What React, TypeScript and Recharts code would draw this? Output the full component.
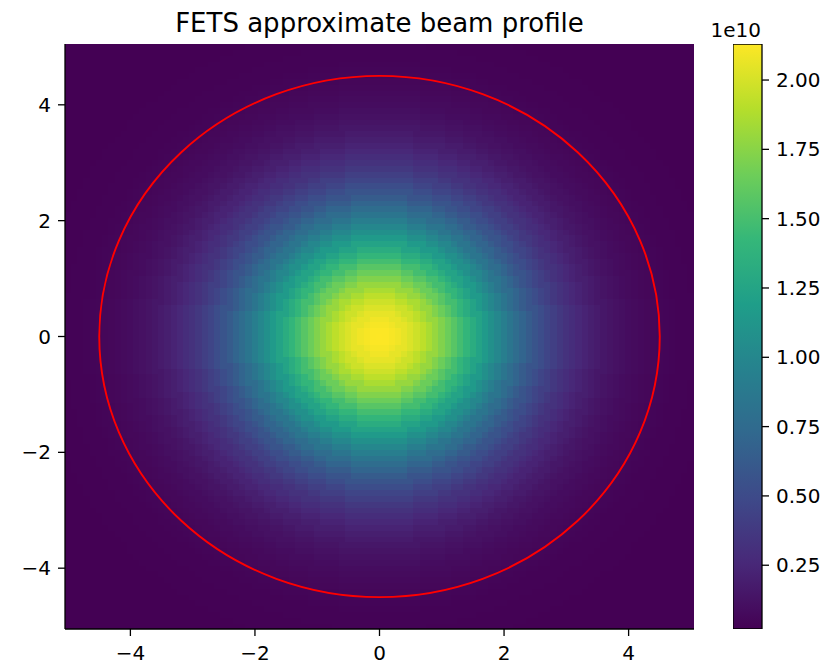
import {
  ScatterChart,
  ComposedChart,
  Scatter,
  Bar,
  XAxis,
  YAxis,
  ReferenceArea,
} from "recharts";

// axes
const xTicks = [-4, -2, 0, 2, 4];
const yTicks = [-4, -2, 0, 2, 4];
const cbarTicks = [0.25, 0.5, 0.75, 1.0, 1.25, 1.5, 1.75, 2.0];

// grid: cell centres every 0.1 from -5 to 5
const GRID_STEP = 0.1;
const gridCoords = Array.from({ length: 101 }, (_, i) => Math.round(-50 + i) / 10);

// beam intensity (x 1e10) read along a radius from the centre, every 0.1 units
const PROFILE_STEP = 0.1;
const radialProfile = [
  2.13, 2.126, 2.112, 2.09, 2.059, 2.02, 1.974, 1.92, 1.86, 1.795,
  1.724, 1.649, 1.571, 1.49, 1.408, 1.325, 1.241, 1.158, 1.076, 0.996,
  0.918, 0.842, 0.77, 0.701, 0.636, 0.575, 0.518, 0.464, 0.415, 0.37,
  0.328, 0.291, 0.257, 0.226, 0.198, 0.174, 0.152, 0.133, 0.116, 0.102,
  0.089, 0.078, 0.069, 0.061, 0.054, 0.048, 0.043, 0.039, 0.035, 0.032,
  0.03, 0.028, 0.027, 0.025, 0.024, 0.023, 0.023, 0.022, 0.022, 0.021,
  0.021, 0.021, 0.021, 0.02, 0.02, 0.02, 0.02, 0.02, 0.02, 0.02,
  0.02, 0.02,
];

// aperture circle radius
const apertureRadius = 4.5;

// colour bar
const VMIN = 0.02;
const VMAX = 2.13;
const cbarData = [{ name: "scale", range: [VMIN, VMAX] }];

const DOMAIN: [number, number] = [-5.05, 5.05];

const viridis = [
  "#440154", "#482878", "#3e4989", "#31688e", "#26828e",
  "#1f9e89", "#35b779", "#6ece58", "#b5de2b", "#fde725",
];

const PLOT_W = 629;
const PLOT_H = 585;
const FONT = "'DejaVu Sans', sans-serif";

function hex(c: string) {
  return [1, 3, 5].map((i) => parseInt(c.slice(i, i + 2), 16));
}

function colorFor(v: number) {
  let t = (v - VMIN) / (VMAX - VMIN);
  t = Math.max(0, Math.min(1, t));
  const pos = t * (viridis.length - 1);
  const i = Math.min(viridis.length - 2, Math.floor(pos));
  const f = pos - i;
  const a = hex(viridis[i]);
  const b = hex(viridis[i + 1]);
  const c = a.map((ch, k) => Math.round(ch + (b[k] - ch) * f));
  return `rgb(${c[0]},${c[1]},${c[2]})`;
}

const cells = gridCoords.flatMap((y) =>
  gridCoords.map((x) => {
    const idx = Math.min(
      radialProfile.length - 1,
      Math.round(Math.hypot(x, y) / PROFILE_STEP)
    );
    return { x, y, v: radialProfile[idx] };
  })
);

const cellW = (PLOT_W * GRID_STEP) / (DOMAIN[1] - DOMAIN[0]);
const cellH = (PLOT_H * GRID_STEP) / (DOMAIN[1] - DOMAIN[0]);

const fmtMinus = (v: number) => (v < 0 ? `\u2212${Math.abs(v)}` : `${v}`);

const tickStyle = { fill: "#000", fontSize: 20, fontFamily: FONT };
const lineStyle = { stroke: "#000", strokeWidth: 1.3 };

function Cell(props: any) {
  const { cx, cy, payload } = props;
  if (cx == null || cy == null) return null;
  return (
    <rect
      x={cx - cellW / 2 - 0.3}
      y={cy - cellH / 2 - 0.3}
      width={cellW + 0.6}
      height={cellH + 0.6}
      fill={colorFor(payload.v)}
      shapeRendering="crispEdges"
    />
  );
}

function Aperture(props: any) {
  const { x, y, width, height } = props;
  return (
    <ellipse
      cx={x + width / 2}
      cy={y + height / 2}
      rx={width / 2}
      ry={height / 2}
      fill="none"
      stroke="#ff0000"
      strokeWidth={1.9}
    />
  );
}

export default function App() {
  return (
    <div
      style={{
        position: "relative",
        width: 828,
        height: 664,
        margin: "-8px 0 0 -8px",
        background: "#fff",
        fontFamily: FONT,
      }}
    >
      <div
        style={{
          position: "absolute",
          left: 65,
          top: 10,
          width: PLOT_W,
          textAlign: "center",
          fontSize: 26,
          lineHeight: "26px",
          color: "#000",
        }}
      >
        FETS approximate beam profile
      </div>

      <div style={{ position: "absolute", left: 0, top: 0 }}>
        <ScatterChart
          width={65 + PLOT_W + 2}
          height={664}
          margin={{ top: 44, right: 2, bottom: 0, left: 0 }}
        >
          <XAxis
            type="number"
            dataKey="x"
            domain={DOMAIN}
            ticks={xTicks}
            allowDataOverflow
            tickFormatter={fmtMinus}
            tick={tickStyle}
            tickSize={7}
            tickMargin={10}
            tickLine={lineStyle}
            axisLine={lineStyle}
            height={35}
            zIndex={500}
          />
          <YAxis
            type="number"
            dataKey="y"
            domain={DOMAIN}
            ticks={yTicks}
            allowDataOverflow
            tickFormatter={fmtMinus}
            tick={tickStyle}
            tickSize={7}
            tickMargin={7}
            tickLine={lineStyle}
            axisLine={lineStyle}
            width={65}
            zIndex={500}
          />
          <XAxis
            xAxisId="top"
            orientation="top"
            type="number"
            domain={DOMAIN}
            tick={false}
            tickLine={false}
            axisLine={lineStyle}
            height={0}
            zIndex={500}
          />
          <YAxis
            yAxisId="right"
            orientation="right"
            type="number"
            domain={DOMAIN}
            tick={false}
            tickLine={false}
            axisLine={lineStyle}
            width={0}
            zIndex={500}
          />
          <Scatter
            data={cells}
            shape={Cell}
            isAnimationActive={false}
            zIndex={50}
          />
          <ReferenceArea
            x1={-apertureRadius}
            x2={apertureRadius}
            y1={-apertureRadius}
            y2={apertureRadius}
            shape={Aperture}
            zIndex={1000}
          />
        </ScatterChart>
      </div>

      <div
        style={{
          position: "absolute",
          left: 701,
          top: 20,
          width: 60,
          textAlign: "right",
          fontSize: 20,
          lineHeight: "20px",
          color: "#000",
        }}
      >
        1e10
      </div>

      <div style={{ position: "absolute", left: 733, top: 0 }}>
        <ComposedChart
          width={95}
          height={664}
          data={cbarData}
          barCategoryGap={0}
          barGap={0}
          margin={{ top: 44, right: 0, bottom: 35, left: 0 }}
        >
          <defs>
            <linearGradient id="viridisBar" x1="0" y1="1" x2="0" y2="0">
              {viridis.map((c, i) => (
                <stop key={c} offset={i / (viridis.length - 1)} stopColor={c} />
              ))}
            </linearGradient>
          </defs>
          <XAxis type="category" dataKey="name" hide />
          <YAxis
            orientation="right"
            type="number"
            domain={[VMIN, VMAX]}
            ticks={cbarTicks}
            allowDataOverflow
            tickFormatter={(v: number) => v.toFixed(2)}
            tick={tickStyle}
            tickSize={7}
            tickMargin={7}
            tickLine={lineStyle}
            axisLine={false}
            width={66}
          />
          <Bar
            dataKey="range"
            fill="url(#viridisBar)"
            stroke="#000"
            strokeWidth={1.3}
            isAnimationActive={false}
          />
        </ComposedChart>
      </div>
    </div>
  );
}
